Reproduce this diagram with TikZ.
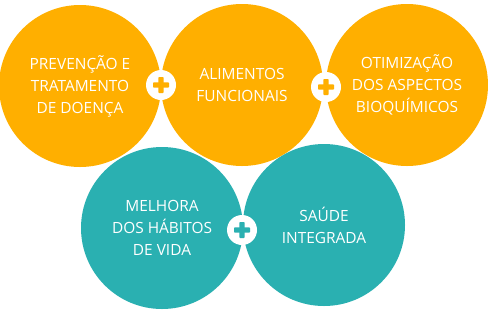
\documentclass[tikz,border=0pt]{standalone}
\usepackage{fontspec}
\setmainfont{Open Sans}
\definecolor{laranja}{HTML}{FFAF00}
\definecolor{verde}{HTML}{2AB0B1}
\tikzset{
  bola/.style={circle, fill=#1, minimum size=162bp, inner sep=0pt, text=white,
    align=center, font=\fontsize{15.5}{22}\selectfont},
  mais/.style={circle, fill=white, minimum size=30bp, inner sep=0pt}
}
\begin{document}
\begin{tikzpicture}[x=1bp, y=-1bp]
  \useasboundingbox (0,0) rectangle (488,315);
  % circulos de cima
  \node[bola=laranja] (prev) at (80,86) {PREVENÇÃO E\\TRATAMENTO\\DE DOENÇA};
  \node[bola=laranja] (alim) at (242,85) {ALIMENTOS\\FUNCIONAIS};
  \node[bola=laranja] (otim) at (407,85) {OTIMIZAÇÃO\\DOS ASPECTOS\\BIOQUÍMICOS};
  % circulos de baixo
  \node[bola=verde] (melh) at (162,228) {MELHORA\\DOS HÁBITOS\\DE VIDA};
  \node[bola=verde] (saud) at (324,225) {SAÚDE\\INTEGRADA};
  % sinais de mais
  \node[mais] (m1) at (161,85) {};
  \node[mais] (m2) at (326,87) {};
  \node[mais] (m3) at (242,230) {};
  \foreach \m/\c in {m1/laranja, m2/laranja, m3/verde} {
    \fill[\c, rounded corners=0.8bp] ([shift={(-8,-2.7)}]\m.center) rectangle ([shift={(8,2.7)}]\m.center);
    \fill[\c, rounded corners=0.8bp] ([shift={(-2.7,-8)}]\m.center) rectangle ([shift={(2.7,8)}]\m.center);
  }
\end{tikzpicture}
\end{document}
